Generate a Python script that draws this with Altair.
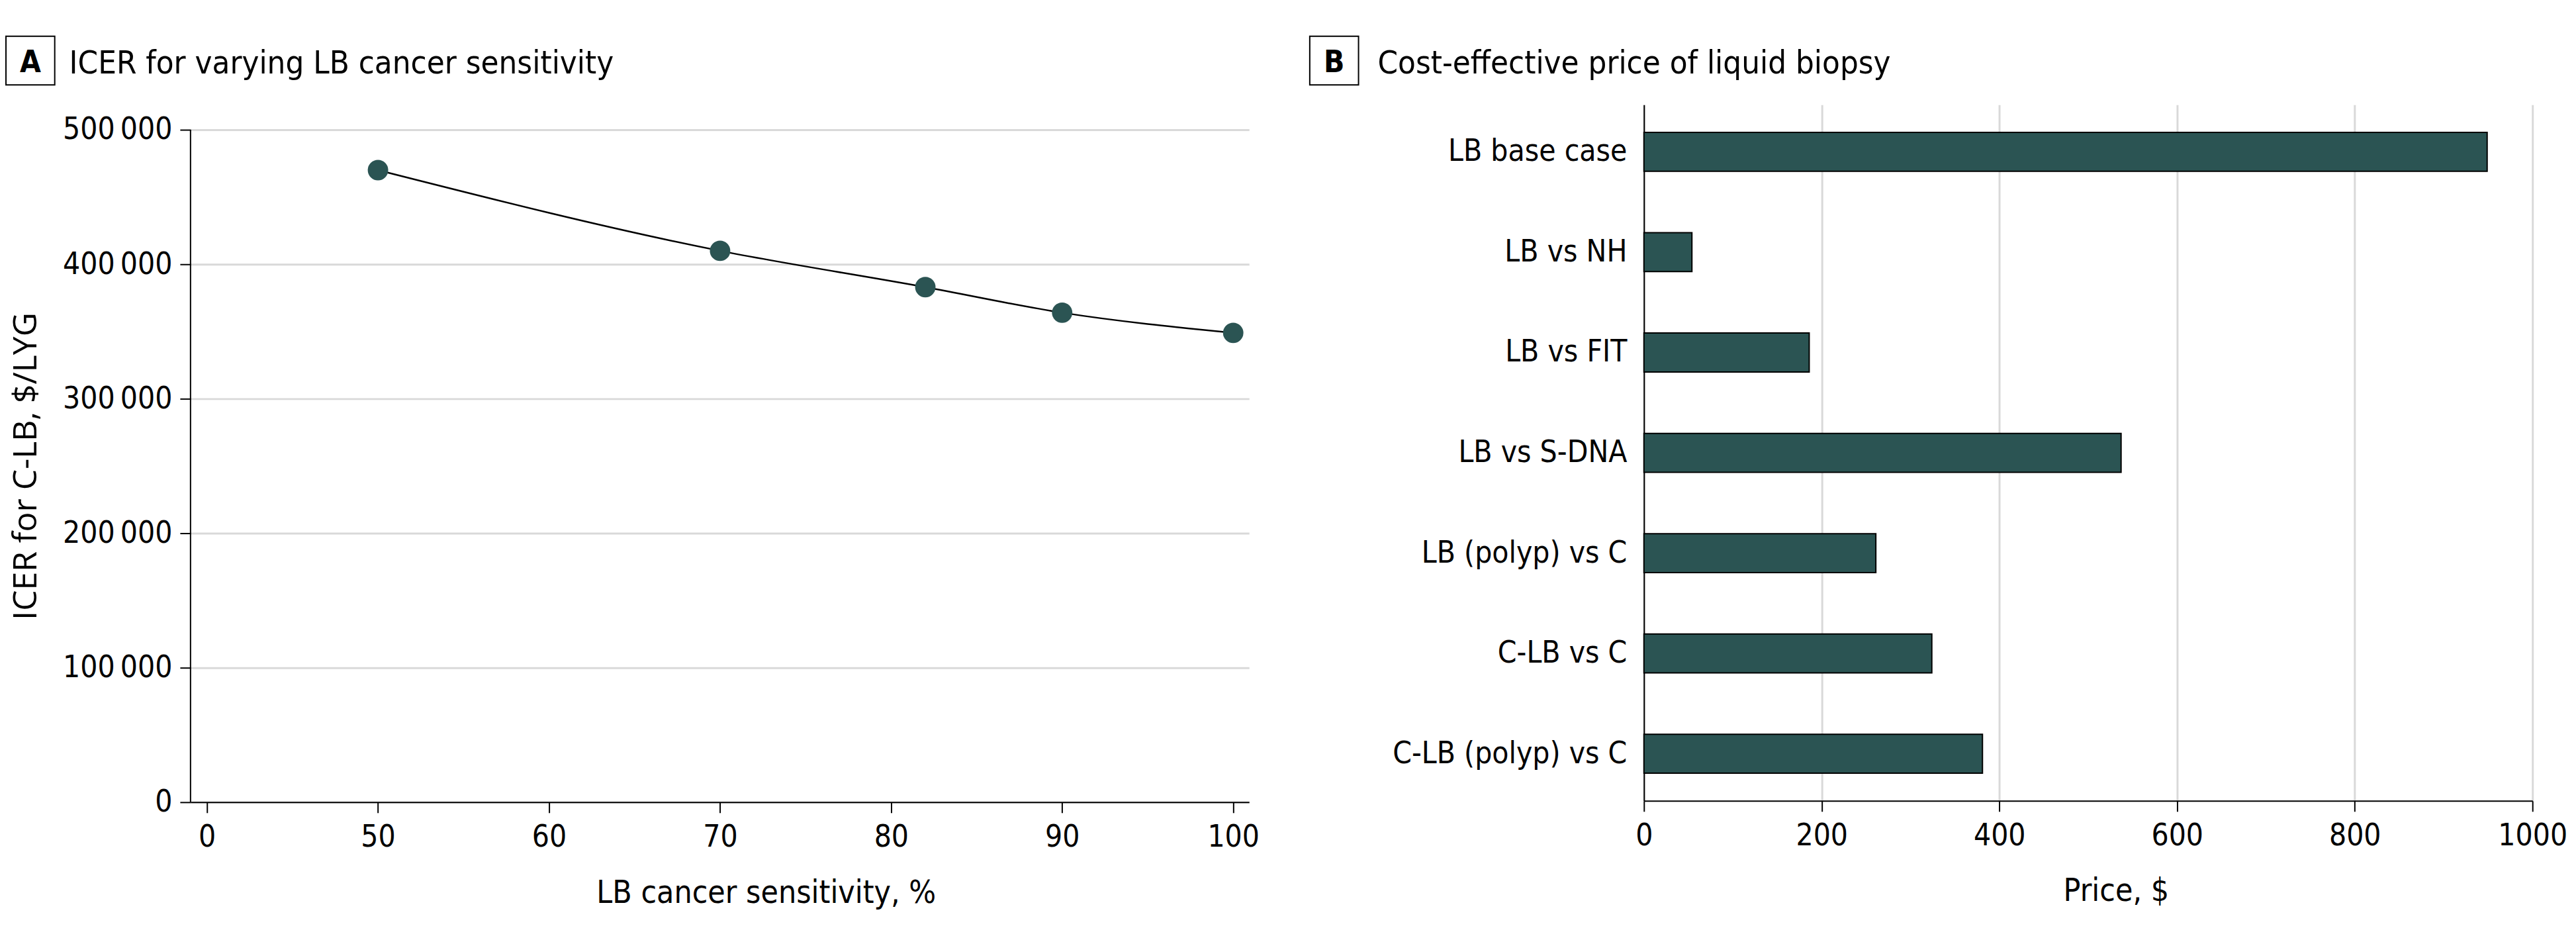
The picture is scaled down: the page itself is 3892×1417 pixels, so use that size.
import altair as alt
import pandas as pd

# ---------------- data ----------------
sens = [50, 70, 82, 90, 100]
icer = [470000, 410000, 383000, 364000, 349000]
x_ticks = [40, 50, 60, 70, 80, 90, 100]          # broken axis: first tick stands for 0
x_tick_labels = ["0", "50", "60", "70", "80", "90", "100"]
y_ticks = [0, 100000, 200000, 300000, 400000, 500000]
y_axis_top = 500000

comparisons = ["LB base case", "LB vs NH", "LB vs FIT", "LB vs S-DNA",
               "LB (polyp) vs C", "C-LB vs C", "C-LB (polyp) vs C"]
prices = [949, 54, 186, 537, 261, 324, 381]
price_ticks = [0, 200, 400, 600, 800, 1000]

title_a = "ICER for varying LB cancer sensitivity"
title_b = "Cost-effective price of liquid biopsy"

# ---------------- style ----------------
FONT = "'DejaVu Sans Condensed', 'Liberation Sans Narrow', 'Roboto Condensed', sans-serif"
YFONT = "Open Sans"
FILL = "#2b5453"

HA = 1058                      # panel A plot height (its y axis line stops at 500 000)
YMAX = y_axis_top * HA / 1020  # headroom above 500 000 so both panels share a top

dfA = pd.DataFrame({"sens": sens, "icer": icer})
dfAxis = pd.DataFrame({"icer": [0], "icer_top": [y_axis_top]})
dfB = pd.DataFrame({"cmp": comparisons, "price": prices})

x_label_expr = "format(datum.value, 'd')"
for v, l in zip(x_ticks, x_tick_labels):
    x_label_expr = f"datum.value == {v} ? '{l}' : ({x_label_expr})"
y_label_expr = "replace(format(datum.value, ','), ',', '\u2009')"

# ---------------- panel A ----------------
xA = alt.X("sens:Q",
           scale=alt.Scale(domain=[39.04, 100.93], nice=False, zero=False),
           axis=alt.Axis(values=x_ticks, labelExpr=x_label_expr, grid=False,
                         tickSize=16, labelPadding=15,
                         title="LB cancer sensitivity, %",
                         titleX=873, titleY=152, titleBaseline="alphabetic",
                         titleAlign="center"))
yA = alt.Y("icer:Q",
           scale=alt.Scale(domain=[0, YMAX], nice=False),
           axis=alt.Axis(values=y_ticks, labelExpr=y_label_expr, grid=True,
                         domain=False, tickSize=16, labelPadding=12,
                         title="ICER for C-LB, $/LYG", titleFont=YFONT,
                         titleFontSize=50, titleX=-234, titleY=548,
                         titleBaseline="alphabetic", titleAlign="center"))

axis_line = alt.Chart(dfAxis).mark_rule(color="black", strokeWidth=2).encode(
    x=alt.value(0), y=yA, y2="icer_top:Q")
line = alt.Chart(dfA).mark_line(color="black", strokeWidth=2.5,
                                interpolate="monotone").encode(x=xA, y=yA)
pts = alt.Chart(dfA).mark_circle(size=960, color=FILL, opacity=1).encode(
    x="sens:Q", y="icer:Q")

oneA = pd.DataFrame({"letter": ["A"], "title": [title_a]})
boxA = alt.Chart(oneA).mark_rect(fill="white", stroke="black", strokeWidth=2).encode(
    x=alt.value(-280), x2=alt.value(-206), y=alt.value(-104), y2=alt.value(-30))
letterA = alt.Chart(oneA).mark_text(font=FONT, fontSize=46, fontWeight="bold",
                                    align="center", baseline="alphabetic",
                                    color="black").encode(
    x=alt.value(-243), y=alt.value(-49), text="letter:N")
titleA = alt.Chart(oneA).mark_text(font=FONT, fontSize=49, align="left",
                                   baseline="alphabetic", color="black").encode(
    x=alt.value(-184), y=alt.value(-47), text="title:N")

panelA = alt.layer(axis_line, line, pts, boxA, letterA, titleA).properties(
    width=1606, height=HA)

# ---------------- panel B ----------------
xB = alt.X("price:Q",
           scale=alt.Scale(domain=[0, 1000], nice=False),
           axis=alt.Axis(values=price_ticks, format="d", grid=True, tickSize=16,
                         labelPadding=15,
                         title="Price, $", titleX=716, titleY=151,
                         titleBaseline="alphabetic", titleAlign="center"))
yB = alt.Y("cmp:N", sort=comparisons,
           scale=alt.Scale(paddingInner=0.612, paddingOuter=0.276),
           axis=alt.Axis(ticks=False, labelPadding=26, title=None, grid=False))

bars = alt.Chart(dfB).mark_bar(fill=FILL, stroke="black", strokeWidth=2).encode(x=xB, y=yB)

oneB = pd.DataFrame({"letter": ["B"], "title": [title_b]})
boxB = alt.Chart(oneB).mark_rect(fill="white", stroke="black", strokeWidth=2).encode(
    x=alt.value(-507), x2=alt.value(-433), y=alt.value(-104), y2=alt.value(-30))
letterB = alt.Chart(oneB).mark_text(font=FONT, fontSize=46, fontWeight="bold",
                                    align="center", baseline="alphabetic",
                                    color="black").encode(
    x=alt.value(-470), y=alt.value(-49), text="letter:N")
titleB = alt.Chart(oneB).mark_text(font=FONT, fontSize=49, align="left",
                                   baseline="alphabetic", color="black").encode(
    x=alt.value(-404), y=alt.value(-47), text="title:N")

panelB = alt.layer(bars, boxB, letterB, titleB).properties(width=1348, height=1056)

chart = alt.hconcat(panelA, panelB, spacing=75).properties(
    padding={"left": 0, "top": 43, "right": 5, "bottom": 5}
).configure_view(stroke=None).configure_axis(
    domainColor="black", domainWidth=2, tickColor="black", tickWidth=2,
    gridColor="#d9d9d9", gridWidth=3,
    labelFont=FONT, labelFontSize=46, labelColor="black", labelLimit=1000,
    labelFlush=False, labelOverlap=False,
    titleFont=FONT, titleFontSize=48, titleFontWeight="normal", titleColor="black",
)

chart.save("out.html", embed_options={"renderer": "svg", "actions": False})
